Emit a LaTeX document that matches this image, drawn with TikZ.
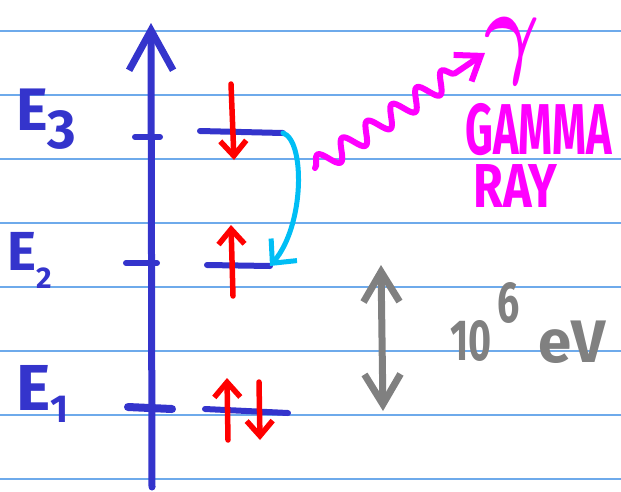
\documentclass[tikz,border=0pt]{standalone}
\usepackage{fontspec}
\usepackage{bm}
\setsansfont{Fira Sans}
\usetikzlibrary{arrows.meta}
\usetikzlibrary{decorations.pathmorphing}
\usetikzlibrary{positioning}

\definecolor{paperline}{RGB}{110,170,235}
\definecolor{penblue}{RGB}{52,52,204}
\definecolor{penred}{RGB}{255,0,0}
\definecolor{pencyan}{RGB}{0,190,245}
\definecolor{penmagenta}{RGB}{255,0,255}
\definecolor{pengray}{RGB}{128,128,128}

\newcommand{\lowsub}[3]{\raisebox{-#1}{\fontsize{#2}{#2}\selectfont #3}}

\begin{document}
\begin{tikzpicture}[x=1pt, y=-1pt, line cap=round, line join=round]
      \tikzset{
        pen/.style={line width=#1},
        pen/.default=7pt,
        barb/.style args={#1/#2}{-{Straight Barb[length=#1, width=#2]}},
        hand/.style={font=\sffamily\bfseries\fontsize{#1}{#1}\selectfont, inner sep=0pt},
        hand/.default=58pt
      }

      \useasboundingbox (0,0) rectangle (621,491);

      % lined paper
      \foreach \k in {0,...,7}
        \draw[paperline, line width=1.6pt] (0,31+64*\k) -- (621,31+64*\k);

      % energy axis
      \coordinate (axbot) at (152,487);
      \coordinate (axtop) at (151,23);
      \draw[penblue, pen, barb=40pt/44pt] (axbot) -- (axtop);

      % levels and ticks
      \coordinate (T3a) at (135,137); \coordinate (T3b) at (160,137);
      \coordinate (T2a) at (126,263); \coordinate (T2b) at (157,263);
      \coordinate (T1a) at (128,407); \coordinate (T1b) at (172,409);
      \coordinate (L3a) at (200,131); \coordinate (L3b) at (283,133);
      \coordinate (L2a) at (207,265); \coordinate (L2b) at (270,266);
      \coordinate (L1a) at (205,409); \coordinate (L1b) at (288,413);
      \draw[penblue, pen=6pt] (T3a) -- (T3b) (T2a) -- (T2b);
      \draw[penblue, pen=8pt] (T1a) -- (T1b);
      \draw[penblue, pen=6pt] (L3a) -- (L3b) (L2a) -- (L2b) (L1a) -- (L1b);

      \node[hand=60pt, penblue, anchor=base west] (lblE3) at (16,130) {E\lowsub{18pt}{55pt}{3}};
      \node[hand=55pt, penblue, anchor=base west] (lblE2) at (7,270) {E\lowsub{18pt}{30pt}{2}};
      \node[hand=65pt, penblue, anchor=base west] (lblE1) at (16,410) {E\lowsub{12pt}{39pt}{1}};

      % spins
      \draw[penred, pen=5.5pt, barb=15pt/26pt] (231,84) -- (234,160);
      \draw[penred, pen=5.5pt, barb=15pt/26pt] (233,296) -- (231,225);
      \draw[penred, pen=5.5pt, barb=15pt/26pt] (228,440) -- (227,378);
      \draw[penred, pen=5.5pt, barb=15pt/26pt] (259,382) -- (260,440);

      % transition
      \draw[pencyan, pen=5pt, barb=18pt/34pt] (L3b) .. controls (305,140) and (305,225) .. (L2b);

      % photon
      \coordinate (wavestart) at (315,168);
      \coordinate (wavetip) at (485,53);
      \draw[penmagenta, pen=6pt, barb=22pt/32pt,
            decorate, decoration={snake, segment length=30pt, amplitude=10pt, post length=24pt}]
            (wavestart) -- (wavetip);
      \node[penmagenta, inner sep=0pt, xscale=8.5, yscale=10.5] (gam) at (512,51) {$\bm{\gamma}$};
      \node[hand=72pt, penmagenta, align=left, anchor=south west, font=\sffamily\bfseries\fontsize{72pt}{53pt}\selectfont] (gammaray) at (465,208)
            {\scalebox{0.6}[1]{GAMMA}\\\hspace*{8pt}\scalebox{0.78}[1]{\fontsize{62pt}{53pt}\selectfont RAY}};

      % gap
      \coordinate (gaptop) at (381,265);
      \coordinate (gapbot) at (383,411);
      \draw[pengray, pen, {Straight Barb[length=30pt, width=36pt]}-{Straight Barb[length=30pt, width=36pt]}] (gaptop) -- (gapbot);
      \node[hand=58pt, pengray, xscale=0.68, anchor=base west, text height=40pt] (gapval) at (450,360) {10};
      \node[hand=58pt, pengray, xscale=0.68, anchor=base west, text depth=0pt] (gapexp) at (497,322) {6};
      \node[hand=60pt, pengray, anchor=base west] (gapunit) at (538,362) {eV};
\end{tikzpicture}
\end{document}
